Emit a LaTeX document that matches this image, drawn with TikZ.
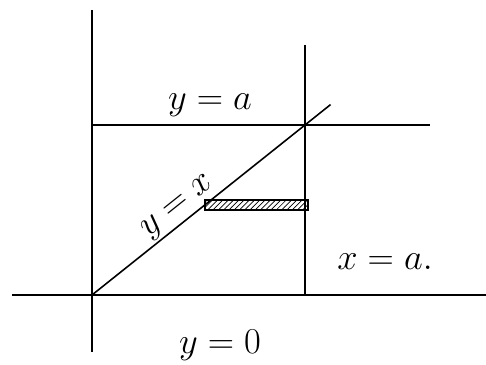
\documentclass[tikz,border=0pt]{standalone}
\usepackage{amsmath}
\usepackage{xcolor}
\usepackage{tikz}
\usetikzlibrary{positioning,arrows.meta,patterns,calc}

\begin{document}
\begin{tikzpicture}[line width=0.9pt,
    lbl/.style={font=\fontsize{21}{24}\selectfont}]
                \useasboundingbox (0,0) rectangle (9.72,7.3);
                \coordinate (O) at (1.84,1.4);
                \coordinate (C) at (6.1,4.8);
                \coordinate (yt) at (1.84,7.1);
                \coordinate (yb) at (1.84,0.26);
                \coordinate (xl) at (0.24,1.4);
                \coordinate (xr) at (9.72,1.4);
                \coordinate (at) at (6.1,6.4);
                \coordinate (ab) at (6.1,1.4);
                \coordinate (al) at (1.84,4.8);
                \coordinate (ar) at (8.6,4.8);
                \coordinate (D) at ($(O)!1.12!(C)$);
                % axes
                \draw (yb) -- (yt);
                \draw (xl) -- (xr);
                % bounding lines
                \draw (ab) -- (at);
                \draw (al) -- (ar);
                \draw (O) -- node[lbl,sloped,above,pos=0.4,inner sep=1pt] (yx) {$y = x$} (D);
                % strip
                \draw[pattern=north east lines] (4.1,3.1) rectangle (6.16,3.3);
                \node[lbl] (ya) at (4.2,5.2) {$y = a$};
                \node[lbl] (xa) at (7.7,2.06) {$x = a.$};
                \node[lbl] (y0) at (4.4,0.4) {$y = 0$};
\end{tikzpicture}
\end{document}
